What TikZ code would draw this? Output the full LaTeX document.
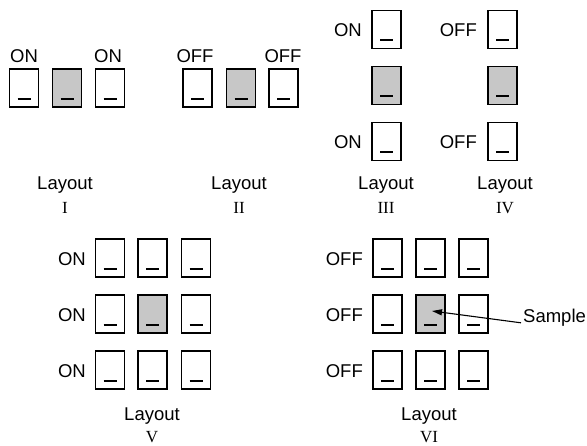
\documentclass[tikz,border=0pt]{standalone}
\usepackage{fontspec}
\setmainfont{Liberation Sans}
\newfontfamily\numfont{Liberation Serif}
\usetikzlibrary{arrows.meta}
\tikzset{
  sw/.style={draw=black, line width=1.8pt, minimum width=29pt, minimum height=38pt,
    inner sep=0pt, fill=white,
    path picture={\draw[line width=2pt]
      ([xshift=-6.5pt,yshift=8pt]path picture bounding box.south) --
      ([xshift=6.5pt,yshift=8pt]path picture bounding box.south);}},
  swg/.style={sw, fill=black!22},
  lab/.style={font=\fontsize{18.5}{21}\selectfont, inner sep=0pt},
  num/.style={font=\numfont\fontsize{17}{20}\selectfont, inner sep=0pt},
}
\begin{document}
\begin{tikzpicture}[x=1pt,y=-1pt]
\useasboundingbox (0,0) rectangle (587,446);
% Layout I
\node[sw]  (a1) at (24,88) {};
\node[swg] (a2) at (67,88) {};
\node[sw]  (a3) at (110,88) {};
\node[lab] (a1l) at (24,56) {ON};
\node[lab] (a3l) at (108,56) {ON};
\node[lab] (la1) at (65,185) {Layout};
\node[num] (n1) at (65,208) {I};
% Layout II
\node[sw]  (b1) at (197.5,88) {};
\node[swg] (b2) at (241,88) {};
\node[sw]  (b3) at (283.5,88) {};
\node[lab] (b1l) at (195,56) {OFF};
\node[lab] (b3l) at (283,56) {OFF};
\node[lab] (la2) at (239,185) {Layout};
\node[num] (n2) at (239,208) {II};
% Layout III
\node[sw]  (c1) at (386.5,29.5) {};
\node[swg] (c2) at (386.5,85.5) {};
\node[sw]  (c3) at (386.5,141.5) {};
\node[lab,anchor=east] (c1l) at (362,30) {ON};
\node[lab,anchor=east] (c3l) at (362,142) {ON};
\node[lab] (la3) at (386,185) {Layout};
\node[num] (n3) at (386,208) {III};
% Layout IV
\node[sw]  (d1) at (502.5,29.5) {};
\node[swg] (d2) at (502.5,85.5) {};
\node[sw]  (d3) at (502.5,141.5) {};
\node[lab,anchor=east] (d1l) at (477,30) {OFF};
\node[lab,anchor=east] (d3l) at (477,142) {OFF};
\node[lab] (la4) at (505,185) {Layout};
\node[num] (n4) at (505,208) {IV};
% Layout V
\node[sw]  (e11) at (110,258) {};
\node[sw]  (e12) at (152.5,258) {};
\node[sw]  (e13) at (196,258) {};
\node[sw]  (e21) at (110,314) {};
\node[swg] (e22) at (152.5,314) {};
\node[sw]  (e23) at (196,314) {};
\node[sw]  (e31) at (110,370) {};
\node[sw]  (e32) at (152.5,370) {};
\node[sw]  (e33) at (196,370) {};
\node[lab,anchor=east] (e1l) at (86,259) {ON};
\node[lab,anchor=east] (e2l) at (86,315) {ON};
\node[lab,anchor=east] (e3l) at (86,371) {ON};
\node[lab] (la5) at (152,416) {Layout};
\node[num] (n5) at (152,437) {V};
% Layout VI
\node[sw]  (f11) at (387.5,258) {};
\node[sw]  (f12) at (430.5,258) {};
\node[sw]  (f13) at (473.5,258) {};
\node[sw]  (f21) at (387.5,314) {};
\node[swg] (f22) at (430.5,314) {};
\node[sw]  (f23) at (473.5,314) {};
\node[sw]  (f31) at (387.5,370) {};
\node[sw]  (f32) at (430.5,370) {};
\node[sw]  (f33) at (473.5,370) {};
\node[lab,anchor=east] (f1l) at (363,259) {OFF};
\node[lab,anchor=east] (f2l) at (363,315) {OFF};
\node[lab,anchor=east] (f3l) at (363,371) {OFF};
\node[lab] (la6) at (429,416) {Layout};
\node[num] (n6) at (429,437) {VI};
% Sample arrow
\node[lab,anchor=west] (sample) at (523,318) {Sample};
\coordinate (tip) at (432,311);
\draw[line width=1.1pt,-{Triangle[length=10pt,width=6pt]}]
  ([xshift=-2pt,yshift=4pt]sample.south west) -- (tip);
\end{tikzpicture}
\end{document}
